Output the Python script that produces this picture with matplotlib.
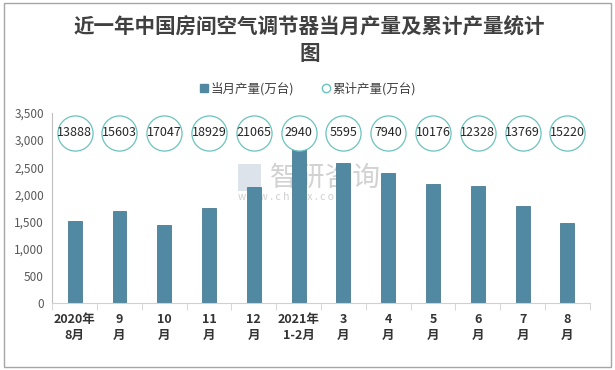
import numpy as np
import matplotlib

matplotlib.use("Agg")
import matplotlib.pyplot as plt
from matplotlib.lines import Line2D
from matplotlib.patches import Rectangle

plt.rcParams["font.family"] = ["Noto Sans CJK SC", "DejaVu Sans"]

# data
months = ["2020年\n8月", "9\n月", "10\n月", "11\n月", "12\n月", "2021年\n1-2月",
          "3\n月", "4\n月", "5\n月", "6\n月", "7\n月", "8\n月"]
monthly = [1513, 1697, 1439, 1753, 2140, 2940, 2583, 2398, 2196, 2159, 1790, 1476]
cumulative = [13888, 15603, 17047, 18929, 21065, 2940, 5595, 7940, 10176, 12328, 13769, 15220]

bar_color = "#5289a2"
circle_color = "#6cc3bd"

fig = plt.figure(figsize=(6.15, 3.7), dpi=100)
fig.patches.append(Rectangle((0.006, 0.008), 0.988, 0.984, transform=fig.transFigure,
                             fill=False, edgecolor="#a6a6a6", linewidth=1.0))

ax = fig.add_axes([0.085, 0.181, 0.874, 0.514])
x = np.arange(len(months))
ax.bar(x, monthly, width=0.31, color=bar_color, edgecolor="#4a7d95", linewidth=0.6, zorder=2)

# cumulative values shown as labelled circles in a row above the bars
row_y = np.full(len(cumulative), 3130)
ax.scatter(x, row_y, s=640, facecolor="white", edgecolor=circle_color, linewidth=0.9, zorder=3)
for xi, yi, v in zip(x, row_y, cumulative):
    ax.text(xi, yi, str(v), ha="center", va="center", fontsize=9, color="#262626", zorder=4)

ax.set_xlim(-0.5, len(months) - 0.5)
ax.set_ylim(0, 3500)
ax.set_yticks(np.arange(0, 3501, 500))
ax.set_yticklabels([f"{v:,}" for v in range(0, 3501, 500)], fontsize=8.5, color="#595959")
ax.set_xticks(x)
ax.set_xticklabels(months, fontsize=9, fontweight="bold", color="#333333", linespacing=1.3)
ax.set_xticks(np.arange(-0.5, len(months), 1), minor=True)
ax.tick_params(axis="x", which="major", length=0, pad=7)
ax.tick_params(axis="x", which="minor", length=5, color="#d0d0d0")
ax.tick_params(axis="y", length=0, pad=6)
for side in ["top", "right"]:
    ax.spines[side].set_visible(False)
ax.spines["left"].set_color("#bfbfbf")
ax.spines["bottom"].set_color("#d0d0d0")

# watermark, behind the bars
ax.text(0.405, 0.66, "智研咨询", transform=ax.transAxes, fontsize=20, color="#d2d2d2",
        ha="left", va="center", zorder=1)
ax.text(0.346, 0.56, "w w w . c h y x x . c o m", transform=ax.transAxes, fontsize=7.5,
        color="#cfcfcf", ha="left", va="center", zorder=1)
ax.add_patch(Rectangle((0.346, 0.59), 0.042, 0.14, transform=ax.transAxes, facecolor="#dde3ea",
                       edgecolor="none", zorder=1))

fig.text(0.503, 0.892, "近一年中国房间空气调节器当月产量及累计产量统计\n图", ha="center", va="center",
         fontsize=14.8, fontweight="bold", color="#404040", linespacing=1.3)

handles = [
    Line2D([], [], marker="s", linestyle="none", markersize=6, markerfacecolor=bar_color,
           markeredgecolor=bar_color),
    Line2D([], [], marker="o", linestyle="none", markersize=6, markerfacecolor="white",
           markeredgecolor=circle_color),
]
fig.legend(handles, ["当月产量(万台)", "累计产量(万台)"], loc="center", bbox_to_anchor=(0.5, 0.76),
           ncol=2, frameon=False, fontsize=9, handletextpad=0.1, columnspacing=2.2,
           handlelength=0.8, labelcolor="#404040")

fig.savefig("out.png", dpi=100)
